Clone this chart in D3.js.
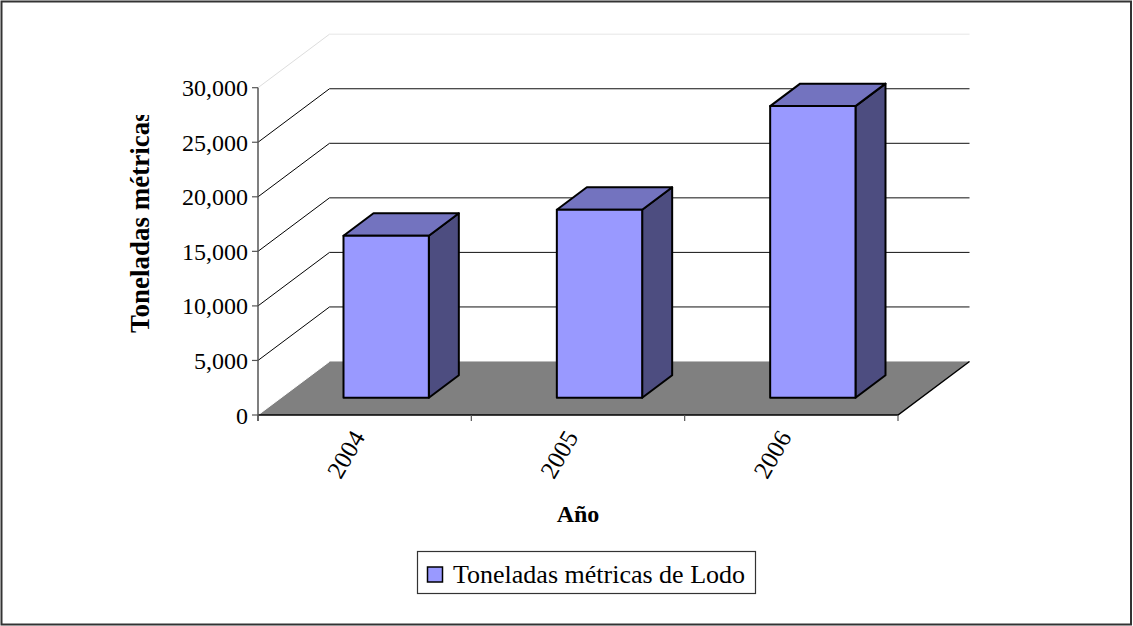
<!DOCTYPE html>
<html>
<head>
<meta charset="utf-8">
<script src="https://cdn.jsdelivr.net/npm/d3@7"></script>
<style>
  html, body { margin: 0; padding: 0; background: #fff; }
  svg { display: block; }
  text { font-family: "Liberation Serif", "Times New Roman", serif; }
</style>
</head>
<body>
<svg id="chart" width="1133" height="626"></svg>
<script>
// Sludge tonnage per year
const years = ["2004", "2005", "2006"];
const tonnes = [14850, 17230, 26730];
const yTicks = [0, 5000, 10000, 15000, 20000, 25000, 30000];
const seriesName = "Toneladas métricas de Lodo";
const yTitle = "Toneladas métricas";
const xTitle = "Año";

const svg = d3.select("#chart");
const W = 1133, H = 626;

// outer frame
svg.append("rect")
  .attr("x", 1.5).attr("y", 1.5)
  .attr("width", W - 3.5).attr("height", H - 3)
  .attr("fill", "#fff").attr("stroke", "#333").attr("stroke-width", 2);

// front plane of the 3D box
const x0 = 258, x1 = 898;
const y = d3.scaleLinear().domain([0, 30000]).range([415, 87.7]);
const x = d3.scaleBand().domain(years).range([x0, x1])
  .paddingInner(0.6).paddingOuter(0.3);
const cat = d3.scaleBand().domain(years).range([x0, x1]);

// oblique depth of the plot box
const D = { dx: 71.5, dy: -53.5 };
// bar front and back planes, as offsets into the depth
const barFront = { dx: 21.5, dy: -17.3 };
const barBack = { dx: 51.5, dy: -39.7 };

const line = d3.line();

// back wall gridlines and side wall lines
const grid = svg.append("g");
yTicks.forEach(v => {
  if (v === 0) return;
  const yy = y(v);
  const top = v === 30000;
  grid.append("path")
    .attr("d", line([[x0, yy], [x0 + D.dx, yy + D.dy]]))
    .attr("stroke", top ? "#ddd" : "#000").attr("stroke-width", 1).attr("fill", "none");
  grid.append("path")
    .attr("d", line([[x0 + D.dx, yy + D.dy], [x1 + D.dx, yy + D.dy]]))
    .attr("stroke", top ? "#e6e6e6" : "#111").attr("stroke-width", 1).attr("fill", "none");
});

// floor
const yb = y(0);
svg.append("path")
  .attr("d", line([[x0, yb], [x1, yb], [x1 + D.dx, yb + D.dy], [x0 + D.dx, yb + D.dy]]) + "Z")
  .attr("fill", "#808080").attr("stroke", "none");
svg.append("path")
  .attr("d", line([[x0 + D.dx, yb + D.dy], [x1 + D.dx, yb + D.dy]]))
  .attr("stroke", "#bbb").attr("stroke-width", 1).attr("fill", "none");
svg.append("path")
  .attr("d", line([[x0, yb], [x0 + D.dx, yb + D.dy]]))
  .attr("stroke", "#fff").attr("stroke-width", 1).attr("fill", "none");
svg.append("path")
  .attr("d", line([[x0, yb], [x1, yb], [x1 + D.dx, yb + D.dy]]))
  .attr("stroke", "#000").attr("stroke-width", 1.5).attr("fill", "none");

// y axis
const yAxis = svg.append("g");
yAxis.append("path")
  .attr("d", line([[x0, y(30000)], [x0, yb + 6]]))
  .attr("stroke", "#555").attr("stroke-width", 1.5).attr("fill", "none");
yTicks.forEach(v => {
  yAxis.append("path")
    .attr("d", line([[x0 - 6, y(v)], [x0, y(v)]]))
    .attr("stroke", "#555").attr("stroke-width", 1.2);
  yAxis.append("text")
    .attr("x", x0 - 10).attr("y", y(v) + 8.5)
    .attr("text-anchor", "end")
    .attr("font-size", 24)
    .text(d3.format(",")(v));
});

// category ticks
const catEdges = years.map(d => cat(d)).concat([x1]);
catEdges.forEach(cx => {
  svg.append("path")
    .attr("d", line([[cx, yb], [cx, yb + 6]]))
    .attr("stroke", "#555").attr("stroke-width", 1.2);
});

// bars
const bars = svg.append("g");
years.forEach((yr, i) => {
  const bx = x(yr), bw = x.bandwidth();
  const yt = y(tonnes[i]);
  const f = barFront, b = barBack;
  const fl = bx + f.dx, fr = bx + bw + f.dx;
  const ft = yt + f.dy, fb = yb + f.dy;
  const bl = bx + b.dx, br = bx + bw + b.dx;
  const bt = yt + b.dy, bbm = yb + b.dy;
  const common = s => s.attr("stroke", "#000").attr("stroke-width", 2).attr("stroke-linejoin", "round");
  // side
  common(bars.append("path")
    .attr("d", line([[fr, ft], [br, bt], [br, bbm], [fr, fb]]) + "Z")
    .attr("fill", "#4d4d80"));
  // top
  common(bars.append("path")
    .attr("d", line([[fl, ft], [bl, bt], [br, bt], [fr, ft]]) + "Z")
    .attr("fill", "#7373bf"));
  // front
  common(bars.append("path")
    .attr("d", line([[fl, ft], [fr, ft], [fr, fb], [fl, fb]]) + "Z")
    .attr("fill", "#9999ff"));
});

// category labels
years.forEach(yr => {
  const cx = cat(yr) + cat.bandwidth() / 2;
  svg.append("text")
    .attr("transform", `translate(${cx + 1},${437}) rotate(-60)`)
    .attr("text-anchor", "end")
    .attr("font-size", 25)
    .text(yr);
});

// axis titles; the y title is cut off at the top of its box
svg.append("defs").append("clipPath").attr("id", "ytclip")
  .append("rect").attr("x", 100).attr("y", 115).attr("width", 80).attr("height", 300);
svg.append("g")
  .attr("clip-path", "url(#ytclip)")
  .append("text")
  .attr("transform", `translate(149,333) rotate(-90)`)
  .attr("text-anchor", "start")
  .attr("font-size", 27).attr("font-weight", "bold")
  .text(yTitle);

svg.append("text")
  .attr("x", (x0 + x1) / 2).attr("y", 522)
  .attr("text-anchor", "middle")
  .attr("font-size", 24).attr("font-weight", "bold")
  .text(xTitle);

// legend
const lg = svg.append("g");
lg.append("rect")
  .attr("x", 417.5).attr("y", 551.5).attr("width", 338).attr("height", 42)
  .attr("fill", "#fff").attr("stroke", "#333").attr("stroke-width", 1.2);
lg.append("rect")
  .attr("x", 427.5).attr("y", 567).attr("width", 15).attr("height", 15)
  .attr("fill", "#9999ff").attr("stroke", "#000").attr("stroke-width", 1.5);
lg.append("text")
  .attr("x", 453).attr("y", 583)
  .attr("font-size", 26)
  .text(seriesName);
</script>
</body>
</html>
